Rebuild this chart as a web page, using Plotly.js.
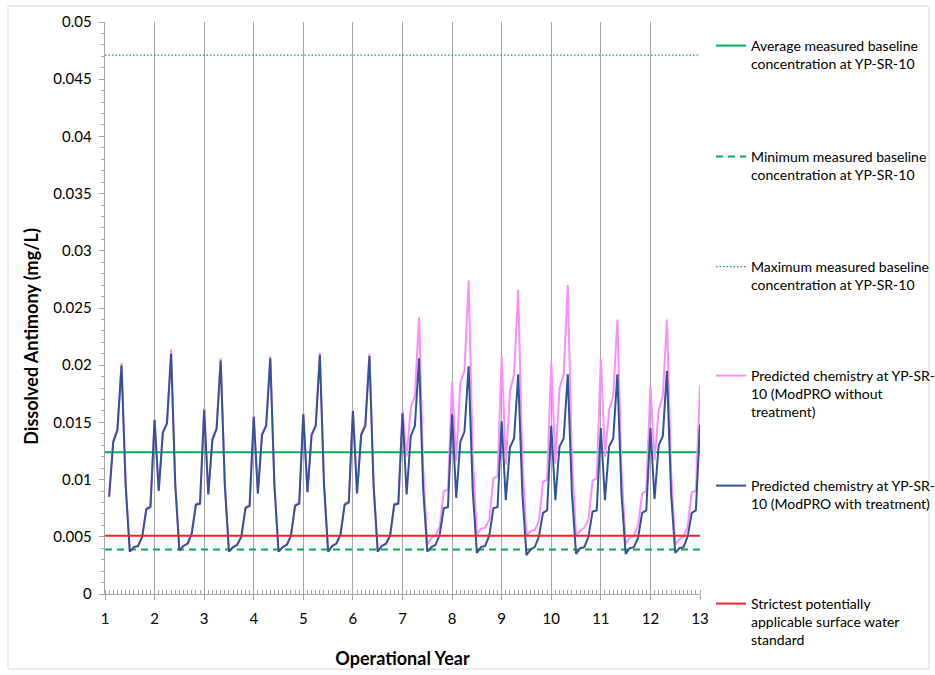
<!DOCTYPE html>
<html>
<head>
<meta charset="utf-8">
<script src="https://cdn.plot.ly/plotly-3.0.1.min.js"></script>
<style>
html,body{margin:0;padding:0;background:#fff;}
#chart{width:935px;height:675px;}
</style>
</head>
<body>
<div id="chart"></div>
<script>
// Operational years on the axis
const years = [1,2,3,4,5,6,7,8,9,10,11,12];
// Monthly values for each operational year (month 1..12 of each year; month 12 = start of next year)
const withTreatment = [
  [0.0085,0.0133,0.0143,0.0200,0.0095,0.0037,0.0041,0.0042,0.0050,0.0074,0.0076,0.0152],
  [0.0090,0.0141,0.0149,0.0210,0.0096,0.0038,0.0042,0.0044,0.0053,0.0078,0.0079,0.0161],
  [0.0087,0.0135,0.0144,0.0204,0.0095,0.0037,0.0041,0.0043,0.0050,0.0075,0.0077,0.0155],
  [0.0088,0.0139,0.0147,0.0206,0.0095,0.0037,0.0041,0.0043,0.0051,0.0077,0.0079,0.0157],
  [0.0089,0.0139,0.0147,0.0209,0.0096,0.0037,0.0042,0.0044,0.0052,0.0078,0.0080,0.0160],
  [0.0088,0.0139,0.0147,0.0208,0.0095,0.0037,0.0042,0.0044,0.0051,0.0078,0.0079,0.0158],
  [0.0087,0.0138,0.0147,0.0206,0.0092,0.0037,0.0041,0.0043,0.0052,0.0075,0.0076,0.0157],
  [0.0084,0.0133,0.0142,0.0199,0.0090,0.0036,0.0041,0.0042,0.0051,0.0075,0.0076,0.0151],
  [0.0082,0.0128,0.0136,0.0192,0.0088,0.0034,0.0039,0.0041,0.0050,0.0071,0.0073,0.0147],
  [0.0082,0.0129,0.0136,0.0192,0.0088,0.0035,0.0040,0.0041,0.0050,0.0072,0.0073,0.0145],
  [0.0082,0.0129,0.0136,0.0192,0.0088,0.0035,0.0040,0.0041,0.0049,0.0071,0.0073,0.0145],
  [0.0083,0.0130,0.0138,0.0195,0.0088,0.0036,0.0040,0.0041,0.0050,0.0071,0.0073,0.0148]
];
const withoutTreatment = [
  [0.0085,0.0134,0.0144,0.0202,0.0096,0.0037,0.0041,0.0042,0.0050,0.0075,0.0077,0.0153],
  [0.0090,0.0142,0.0150,0.0214,0.0097,0.0038,0.0042,0.0044,0.0053,0.0079,0.0080,0.0163],
  [0.0087,0.0136,0.0145,0.0206,0.0096,0.0037,0.0041,0.0043,0.0050,0.0076,0.0078,0.0156],
  [0.0088,0.0140,0.0148,0.0208,0.0096,0.0037,0.0041,0.0043,0.0051,0.0078,0.0080,0.0158],
  [0.0089,0.0140,0.0148,0.0211,0.0097,0.0037,0.0042,0.0044,0.0052,0.0079,0.0081,0.0161],
  [0.0088,0.0140,0.0148,0.0210,0.0096,0.0037,0.0042,0.0044,0.0051,0.0079,0.0080,0.0161],
  [0.0120,0.0163,0.0173,0.0242,0.0110,0.0043,0.0049,0.0051,0.0059,0.0090,0.0091,0.0185],
  [0.0116,0.0185,0.0195,0.0274,0.0120,0.0052,0.0057,0.0058,0.0065,0.0101,0.0103,0.0208],
  [0.0113,0.0177,0.0192,0.0266,0.0118,0.0051,0.0055,0.0056,0.0063,0.0098,0.0100,0.0203],
  [0.0114,0.0180,0.0192,0.0270,0.0118,0.0051,0.0055,0.0058,0.0065,0.0099,0.0101,0.0206],
  [0.0120,0.0161,0.0173,0.0240,0.0108,0.0044,0.0049,0.0051,0.0060,0.0088,0.0090,0.0182],
  [0.0117,0.0161,0.0173,0.0240,0.0108,0.0043,0.0048,0.0050,0.0059,0.0089,0.0090,0.0182]
];
// Reference levels (mg/L)
const avgBaseline = 0.0124;
const minBaseline = 0.0039;
const maxBaseline = 0.0471;
const standard = 0.0051;
const axisSpan = [1, 13];

const monthsPerYear = 12;
const xMonthly = [], yWith = [], yWithout = [];
years.forEach((yr, i) => {
  for (let m = 1; m <= monthsPerYear; m++) {
    xMonthly.push(yr + m / monthsPerYear);
    yWith.push(withTreatment[i][m - 1]);
    yWithout.push(withoutTreatment[i][m - 1]);
  }
});

const traces = [
  {x: axisSpan, y: [avgBaseline, avgBaseline], mode: 'lines', name: 'Average measured baseline<br>concentration at YP-SR-10',
   line: {color: '#00b050', width: 2}, legend: 'legend'},
  {x: axisSpan, y: [minBaseline, minBaseline], mode: 'lines', name: 'Minimum measured baseline<br>concentration at YP-SR-10',
   line: {color: '#00b050', width: 2, dash: '7px,5px'}, legend: 'legend2'},
  {x: axisSpan, y: [maxBaseline, maxBaseline], mode: 'lines', name: 'Maximum measured baseline<br>concentration at YP-SR-10',
   line: {color: '#00b050', width: 1.3, dash: '1.5px,2px'}, legend: 'legend3'},
  {x: xMonthly, y: yWithout, mode: 'lines', name: 'Predicted chemistry at YP-SR-<br>10 (ModPRO without<br>treatment)',
   line: {color: '#ff8cff', width: 2}, legend: 'legend4'},
  {x: xMonthly, y: yWith, mode: 'lines', name: 'Predicted chemistry at YP-SR-<br>10 (ModPRO with treatment)',
   line: {color: '#2f5597', width: 2}, legend: 'legend5'},
  {x: axisSpan, y: [standard, standard], mode: 'lines', name: 'Strictest potentially<br>applicable surface water<br>standard',
   line: {color: '#ff2020', width: 2}, legend: 'legend6'}
];

const font = 'Lato, "Open Sans", sans-serif';
const M = {l: 105, r: 235, t: 22, b: 81};
const plotW = 935 - M.l - M.r, plotH = 675 - M.t - M.b;
const legX = (711 - M.l) / plotW;
const legY = (centerPx) => 1 - ((centerPx - 15) - M.t) / plotH;
const legBase = {
  xanchor: 'left', yanchor: 'top', x: legX,
  font: {family: font, size: 14, color: '#000000'},
  valign: 'top', itemwidth: 30, bgcolor: 'rgba(0,0,0,0)'
};
const legendRows = [45, 156, 266, 375, 485, 603];
const titleShift = '\u00a0'.repeat(13);

const layout = {
  width: 935, height: 675,
  margin: Object.assign({autoexpand: false}, M),
  paper_bgcolor: '#ffffff', plot_bgcolor: '#ffffff',
  font: {family: font, color: '#000000', size: 15},
  showlegend: true,
  legend:  Object.assign({}, legBase, {y: legY(legendRows[0])}),
  legend2: Object.assign({}, legBase, {y: legY(legendRows[1])}),
  legend3: Object.assign({}, legBase, {y: legY(legendRows[2])}),
  legend4: Object.assign({}, legBase, {y: legY(legendRows[3])}),
  legend5: Object.assign({}, legBase, {y: legY(legendRows[4])}),
  legend6: Object.assign({}, legBase, {y: legY(legendRows[5])}),
  xaxis: {
    range: [1, 13], tick0: 1, dtick: 1, tickmode: 'linear',
    showgrid: true, gridcolor: '#a6a6a6', gridwidth: 1,
    showline: true, linecolor: '#a6a6a6', linewidth: 1.3,
    ticks: 'outside', ticklen: 5, tickcolor: '#a6a6a6',
    minor: {dtick: 1/12, ticks: 'inside', ticklen: 4, tickcolor: '#a6a6a6', showgrid: false},
    zeroline: false, tickfont: {size: 15, color: '#000'}, ticklabelstandoff: 6,
    title: {text: '<b>Operational Year</b>', font: {size: 18}, standoff: 26}
  },
  yaxis: {
    range: [0, 0.05], tick0: 0, dtick: 0.005, tickmode: 'linear',
    showgrid: false, showline: true, linecolor: '#a6a6a6', linewidth: 1.3,
    ticks: 'outside', ticklen: 5, tickcolor: '#a6a6a6',
    minor: {dtick: 0.001, ticks: 'outside', ticklen: 3, tickcolor: '#a6a6a6', showgrid: false},
    zeroline: false, tickfont: {size: 15, color: '#000'}, ticklabelstandoff: 4,
    title: {text: '<b>Dissolved Antimony (mg/L)' + titleShift + '</b>', font: {size: 18}, standoff: 10}
  },
  shapes: [
    {type: 'rect', xref: 'paper', yref: 'paper',
     x0: (8 - M.l) / plotW, x1: (929 - M.l) / plotW,
     y0: 1 - (669 - M.t) / plotH, y1: 1 - (6 - M.t) / plotH,
     line: {color: '#d9d9d9', width: 1}, fillcolor: 'rgba(0,0,0,0)', layer: 'below'}
  ]
};

Plotly.newPlot('chart', traces, layout, {displayModeBar: false, staticPlot: true});
</script>
</body>
</html>
